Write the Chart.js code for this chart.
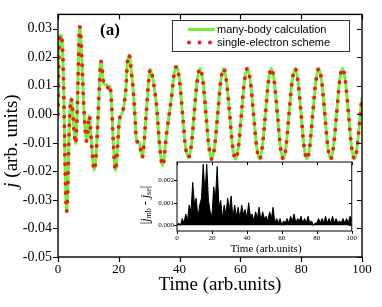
<!DOCTYPE html>
<html>
<head>
<meta charset="utf-8">
<script src="https://cdn.jsdelivr.net/npm/chart.js@4.4.1/dist/chart.umd.min.js"></script>
<style>
  html, body { margin: 0; padding: 0; background: #fff; }
  #wrap { position: relative; width: 382px; height: 307px; }
  #main { position: absolute; left: 0; top: 0; }
  #inset { position: absolute; left: 130px; top: 152px; }
</style>
</head>
<body>
<div id="wrap">
  <canvas id="main" width="382" height="307"></canvas>
  <canvas id="inset" width="230" height="110"></canvas>
</div>
<script>
// main panel: current j(t)
const time = [
  0, 0.4, 0.9, 1.4, 1.8, 2.2, 2.5, 2.85, 3.2, 3.6,
  4.3, 4.8, 5.3, 5.8, 6.2, 6.5, 6.8, 7.15, 7.5, 8.0,
  8.6, 9.4, 10.3, 11.0, 11.9, 12.5, 12.9, 13.25, 13.6, 14.1,
  14.6, 15.1, 16.1, 16.6, 17.1, 17.6, 18.2, 18.9, 19.5, 20.2,
  20.9, 21.5, 22.0, 22.4, 22.8, 23.4, 24.2, 24.8, 25.2, 25.9,
  26.7, 27.7, 28.9, 29.7, 30.3, 31.3, 32.5, 33.3, 34.4, 35.7,
  37.4, 38.2, 39.0, 40.0, 40.95, 41.9, 42.9, 43.85, 44.8, 45.75,
  46.7, 47.7, 48.65, 49.6, 50.6, 51.55, 52.55, 53.5, 54.5, 55.45,
  56.45, 57.4, 58.4, 59.4, 60.35, 61.3, 62.3, 63.3, 64.3, 65.3,
  66.3, 67.25, 68.25, 69.2, 70.2, 71.15, 72.15, 73.1, 74.1, 75.05,
  76.0, 77.0, 78.0, 78.95, 79.95, 80.9, 81.9, 82.85, 83.8, 84.8,
  85.8, 86.75, 87.75, 88.7, 89.7, 90.65, 91.65, 92.6, 93.6, 94.55,
  95.55, 96.5, 97.5, 98.45, 99.45, 100
];
const jManyBody = [
  0.0000, 0.0245, 0.0277, 0.0250, 0.0120, -0.0100, -0.0260, -0.0340, -0.0270, -0.0080,
  0.0055, 0.0020, -0.0060, -0.0103, -0.0020, 0.0080, 0.0220, 0.0307, 0.0270, 0.0150,
  0.0003, -0.0094, -0.0005, -0.0100, -0.0195, -0.0150, -0.0070, 0.0010, 0.0100, 0.0186,
  0.0150, 0.0106, 0.0103, 0.0088, 0.0098, 0.0040, -0.0100, -0.0197, -0.0130, -0.0020,
  0.0000, 0.0020, 0.0055, 0.0100, 0.0180, 0.0209, 0.0140, 0.0078, 0.0010, -0.0094,
  -0.0099, -0.0152, -0.0014, 0.0100, 0.0158, 0.0118, 0.0020, -0.0094, -0.0180, -0.0070,
  0.0066, 0.0140, 0.0168, 0.0115, 0.0003, -0.0110, -0.0152, -0.0110, 0.0003, 0.0114,
  0.0161, 0.0114, 0.0003, -0.0110, -0.0157, -0.0110, 0.0003, 0.0114, 0.0161, 0.0114,
  0.0003, -0.0110, -0.0157, -0.0110, 0.0003, 0.0114, 0.0161, 0.0114, 0.0003, -0.0110,
  -0.0157, -0.0110, 0.0003, 0.0114, 0.0161, 0.0114, 0.0003, -0.0110, -0.0157, -0.0110,
  0.0003, 0.0114, 0.0161, 0.0114, 0.0003, -0.0110, -0.0157, -0.0110, 0.0003, 0.0114,
  0.0161, 0.0114, 0.0003, -0.0110, -0.0157, -0.0110, 0.0003, 0.0114, 0.0161, 0.0114,
  0.0003, -0.0110, -0.0157, -0.0110, 0.0003, 0.0060
];
// single-electron scheme sits on top of the many-body curve
const jSingleElectron = jManyBody.slice();

// inset: |j_mb - j_se| at t = 0, 1, 2 ... 100
const insetDiff = [
  0.0000, 0.0001, 0.0000, 0.0003, 0.0001, 0.0005, 0.0002, 0.0009, 0.0006, 0.0019,
  0.0009, 0.0012, 0.0003, 0.0009, 0.0012, 0.0027, 0.0014, 0.0027, 0.0011, 0.0006,
  0.0004, 0.0017, 0.0012, 0.0026, 0.0008, 0.0011, 0.0003, 0.0009, 0.0005, 0.0012,
  0.0007, 0.0013, 0.0003, 0.0009, 0.0004, 0.0008, 0.0003, 0.0009, 0.0005, 0.0007,
  0.0003, 0.0010, 0.0004, 0.0005, 0.0002, 0.0006, 0.0003, 0.0008, 0.0002, 0.0006,
  0.0003, 0.0004, 0.0002, 0.0006, 0.0003, 0.0008, 0.0001, 0.0003, 0.0001, 0.0003,
  0.0000, 0.0002, 0.0001, 0.0003, 0.0001, 0.0004, 0.0002, 0.0005, 0.0001, 0.0003,
  0.0002, 0.0004, 0.0001, 0.0003, 0.0001, 0.0004, 0.0001, 0.0002, 0.0000, 0.0001,
  0.0001, 0.0003, 0.0001, 0.0003, 0.0001, 0.0004, 0.0001, 0.0003, 0.0001, 0.0004,
  0.0001, 0.0003, 0.0001, 0.0002, 0.0001, 0.0003, 0.0001, 0.0003, 0.0001, 0.0004,
  0.0002
];

const legendLabels = ['many-body calculation', 'single-electron scheme'];
const GREEN = '#74f232';
const RED = '#f01c1c';
const SERIF = '"Liberation Serif", "Times New Roman", serif';
const SANS = '"Liberation Sans", Arial, sans-serif';

const isMult = (v, s) => Math.abs(v / s - Math.round(v / s)) < 1e-6;

// box + tick marks (minor ticks are the unlabeled ones)
const framePlugin = {
  id: 'frame',
  afterDraw(chart, args, o) {
    const { ctx, chartArea: a } = chart;
    const x = chart.scales.x, y = chart.scales.y;
    ctx.save();
    ctx.strokeStyle = '#000';
    ctx.lineWidth = o.lw;
    ctx.beginPath();
    x.ticks.forEach(t => {
      const px = Math.round(x.getPixelForValue(t.value)) + 0.5;
      const len = isMult(t.value, o.xMajor) ? o.major : o.minor;
      ctx.moveTo(px, a.bottom); ctx.lineTo(px, a.bottom + len);
      ctx.moveTo(px, a.top); ctx.lineTo(px, a.top + len);
    });
    y.ticks.forEach(t => {
      const py = Math.round(y.getPixelForValue(t.value)) + 0.5;
      const len = isMult(t.value, o.yMajor) ? o.major : o.minor;
      ctx.moveTo(a.left - len, py); ctx.lineTo(a.left, py);
      ctx.moveTo(a.right - len, py); ctx.lineTo(a.right, py);
    });
    ctx.stroke();
    ctx.lineWidth = o.frame;
    ctx.strokeRect(a.left, a.top, a.right - a.left, a.bottom - a.top);
    ctx.restore();
  }
};

const mainDecor = {
  id: 'mainDecor',
  afterDraw(chart) {
    const ctx = chart.ctx;
    ctx.save();

    // legend box
    ctx.fillStyle = '#fff';
    ctx.fillRect(172.5, 20.5, 177, 31);
    ctx.strokeStyle = '#333';
    ctx.lineWidth = 1;
    ctx.strokeRect(172.5, 20.5, 177, 31);
    ctx.strokeStyle = GREEN;
    ctx.lineWidth = 3;
    ctx.beginPath(); ctx.moveTo(188, 29.5); ctx.lineTo(215, 29.5); ctx.stroke();
    ctx.strokeStyle = RED;
    ctx.lineWidth = 4;
    ctx.lineCap = 'round';
    ctx.setLineDash([0, 10.5]);
    ctx.beginPath(); ctx.moveTo(189, 42.5); ctx.lineTo(212, 42.5); ctx.stroke();
    ctx.setLineDash([]);
    ctx.fillStyle = '#000';
    ctx.font = '11px ' + SANS;
    ctx.textBaseline = 'middle';
    ctx.textAlign = 'left';
    ctx.fillText(legendLabels[0], 217, 29.5);
    ctx.fillText(legendLabels[1], 217, 42.5);

    // panel tag
    ctx.font = 'bold 17px ' + SERIF;
    ctx.textAlign = 'center';
    ctx.fillText('(a)', 110, 31);

    // x title
    ctx.font = '19px ' + SERIF;
    ctx.textBaseline = 'alphabetic';
    ctx.fillText('Time (arb.units)', 220, 290);

    // y title with italic j
    ctx.translate(12, 141);
    ctx.rotate(-Math.PI / 2);
    ctx.textBaseline = 'middle';
    ctx.textAlign = 'left';
    const fi = 'italic 19px ' + SERIF, fr = '19px ' + SERIF;
    ctx.font = fi; const w1 = ctx.measureText('j').width;
    ctx.font = fr; const w2 = ctx.measureText(' (arb. units)').width;
    const sx = -(w1 + w2) / 2;
    ctx.font = fi; ctx.fillText('j', sx, 0);
    ctx.font = fr; ctx.fillText(' (arb. units)', sx + w1, 0);
    ctx.restore();
  }
};

const insetDecor = {
  id: 'insetDecor',
  afterDraw(chart) {
    const ctx = chart.ctx;
    ctx.save();
    ctx.fillStyle = '#000';
    ctx.font = '11px ' + SERIF;
    ctx.textAlign = 'center';
    ctx.textBaseline = 'alphabetic';
    ctx.fillText('Time (arb.units)', 136, 100);

    // |j_mb - j_se|
    ctx.translate(16, 53);
    ctx.rotate(-Math.PI / 2);
    const parts = [
      ['|', '12px ' + SERIF, 0],
      ['j', 'italic 12px ' + SERIF, 0],
      ['mb', '8px ' + SERIF, 3],
      [' - ', '12px ' + SERIF, 0],
      ['j', 'italic 12px ' + SERIF, 0],
      ['se', '8px ' + SERIF, 3],
      ['|', '12px ' + SERIF, 0]
    ];
    let total = 0;
    parts.forEach(p => { ctx.font = p[1]; p.push(ctx.measureText(p[0]).width); total += p[3]; });
    let sx = -total / 2;
    ctx.textAlign = 'left';
    ctx.textBaseline = 'middle';
    parts.forEach(p => { ctx.font = p[1]; ctx.fillText(p[0], sx, p[2]); sx += p[3]; });
    ctx.restore();
  }
};

const pts = (xs, ys) => xs.map((t, i) => ({ x: t, y: ys[i] }));

new Chart(document.getElementById('main'), {
  type: 'line',
  data: {
    datasets: [
      {
        label: legendLabels[1],
        data: pts(time, jSingleElectron),
        borderColor: RED,
        borderWidth: 4,
        borderDash: [0, 9.5],
        borderCapStyle: 'round',
        pointRadius: 0,
        cubicInterpolationMode: 'monotone',
        order: 0
      },
      {
        label: legendLabels[0],
        data: pts(time, jManyBody),
        borderColor: GREEN,
        borderWidth: 3,
        pointRadius: 0,
        cubicInterpolationMode: 'monotone',
        order: 1
      }
    ]
  },
  options: {
    responsive: false,
    animation: false,
    layout: { padding: { top: 9, right: 20, left: 0, bottom: 0 } },
    plugins: {
      legend: { display: false },
      tooltip: { enabled: false },
      frame: { lw: 1.2, frame: 1.4, major: 5, minor: 3, xMajor: 20, yMajor: 0.01 }
    },
    scales: {
      x: {
        type: 'linear', min: 0, max: 100,
        grid: { display: false, drawTicks: false }, border: { display: false },
        ticks: {
          stepSize: 10, autoSkip: false, maxRotation: 0, includeBounds: false,
          color: '#000', padding: 5, font: { family: SERIF, size: 13 },
          callback: v => isMult(v, 20) ? String(Math.round(v)) : null
        },
        afterFit: s => { s.height = 50; }
      },
      y: {
        type: 'linear', min: -0.05, max: 0.035,
        grid: { display: false, drawTicks: false }, border: { display: false },
        ticks: {
          stepSize: 0.005, autoSkip: false, includeBounds: false,
          color: '#000', padding: 6, font: { family: SERIF, size: 14 },
          callback: v => isMult(v, 0.01) ? (Math.abs(v) < 1e-9 ? '0.00' : v.toFixed(2)) : null
        },
        afterFit: s => { s.width = 58; }
      }
    }
  },
  plugins: [framePlugin, mainDecor]
});

new Chart(document.getElementById('inset'), {
  type: 'line',
  data: {
    datasets: [{
      data: insetDiff.map((v, i) => ({ x: i, y: v })),
      borderColor: '#000',
      backgroundColor: '#000',
      borderWidth: 1,
      fill: 'origin',
      pointRadius: 0,
      tension: 0
    }]
  },
  options: {
    responsive: false,
    animation: false,
    layout: { padding: { top: 10, right: 8, left: 0, bottom: 0 } },
    plugins: {
      legend: { display: false },
      tooltip: { enabled: false },
      filler: { propagate: false },
      frame: { lw: 1, frame: 1, major: 3, minor: 2, xMajor: 20, yMajor: 0.001 }
    },
    scales: {
      x: {
        type: 'linear', min: 0, max: 100,
        grid: { display: false, drawTicks: false }, border: { display: false },
        ticks: {
          stepSize: 10, autoSkip: false, maxRotation: 0, includeBounds: false,
          color: '#000', padding: 3, font: { family: SERIF, size: 7 },
          callback: v => isMult(v, 20) ? String(Math.round(v)) : null
        },
        afterFit: s => { s.height = 31; }
      },
      y: {
        type: 'linear', min: -0.00025, max: 0.0028,
        grid: { display: false, drawTicks: false }, border: { display: false },
        ticks: {
          stepSize: 0.0005, autoSkip: false, includeBounds: false,
          color: '#000', padding: 3, font: { family: SERIF, size: 7 },
          callback: v => isMult(v, 0.001) ? (Math.abs(v) < 1e-9 ? '0.000' : v.toFixed(3)) : null
        },
        afterFit: s => { s.width = 47; }
      }
    }
  },
  plugins: [framePlugin, insetDecor]
});
</script>
</body>
</html>
